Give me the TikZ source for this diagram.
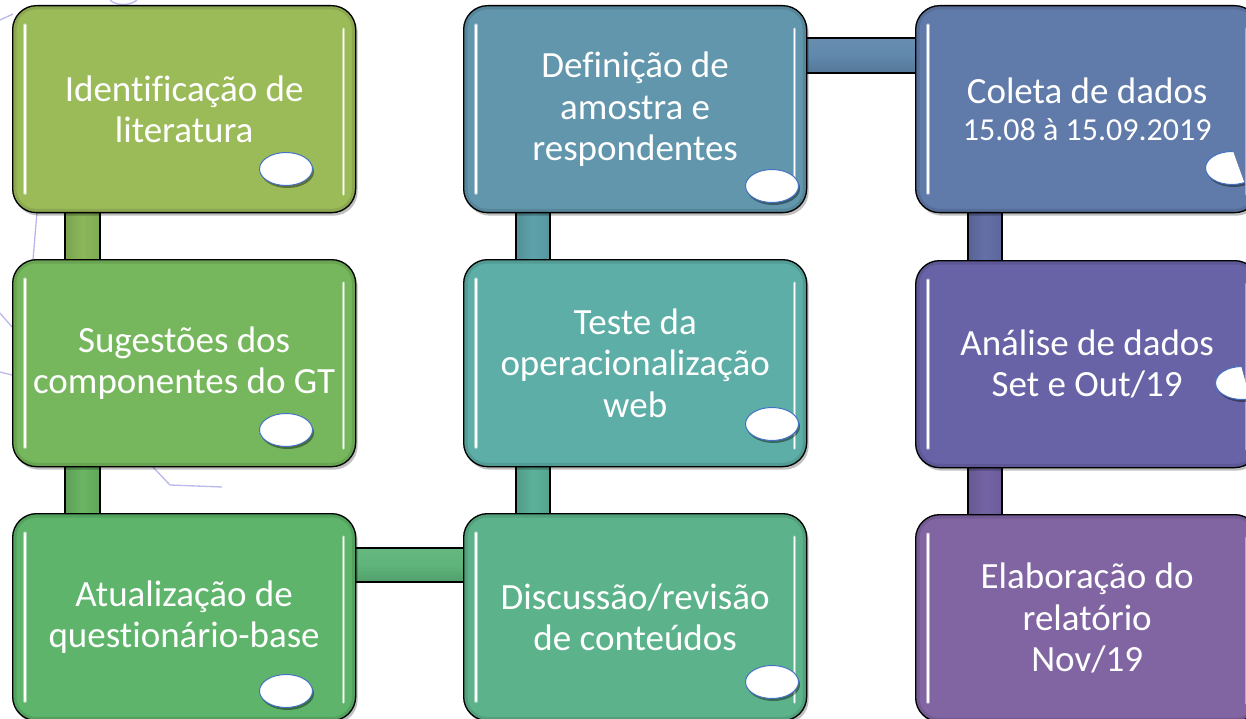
\documentclass[tikz,border=0pt]{standalone}
\usepackage{fontspec}
\setmainfont{Carlito}[Ligatures={NoCommon}]
\usetikzlibrary{shapes.geometric,shadows,backgrounds}
\definecolor{c1}{HTML}{9BBB59}
\definecolor{c2}{HTML}{76B75D}
\definecolor{c3}{HTML}{5DB46A}
\definecolor{c4}{HTML}{5CB38B}
\definecolor{c5}{HTML}{5CAEA6}
\definecolor{c6}{HTML}{6196AC}
\definecolor{c7}{HTML}{607AA9}
\definecolor{c8}{HTML}{6863A6}
\definecolor{c9}{HTML}{8165A3}
\definecolor{k12}{HTML}{8BB85A}
\definecolor{k23}{HTML}{6AB563}
\definecolor{k34}{HTML}{5EB47A}
\definecolor{k45}{HTML}{5CB19A}
\definecolor{k56}{HTML}{5EA2AC}
\definecolor{k67}{HTML}{6088AB}
\definecolor{k78}{HTML}{6470A8}
\definecolor{k89}{HTML}{7464A5}
\definecolor{lav}{HTML}{B9B9EC}
\definecolor{ellborder}{HTML}{4472C4}
\tikzset{
  box/.style={draw=black, line width=1.3pt, rounded corners=24pt,
    minimum width=343pt, minimum height=207pt, anchor=north west,
    text=white, align=center, inner sep=0pt,
    font=\fontsize{37}{41.5}\selectfont,
    drop shadow={shadow xshift=2pt, shadow yshift=-3pt, opacity=0.25, fill=black}},
  dot/.style={ellipse, draw=ellborder, fill=white, line width=1pt,
    minimum width=53pt, minimum height=33pt, inner sep=0pt,
    drop shadow={shadow xshift=1.5pt, shadow yshift=-2.5pt, opacity=0.4, fill=black}},
  vbar/.style={draw=black, line width=1.2pt, left color=#1!88!black, right color=#1!92!black, middle color=#1},
  hbar/.style={draw=black, line width=1.2pt, top color=#1!95!white, bottom color=#1!88!black, middle color=#1},
  bgline/.style={draw=lav, line width=1.3pt}
}
\newcommand{\boxgloss}[2]{%
  \begin{scope}
    \clip[rounded corners=24pt] (#1.south west) rectangle (#1.north east);
    \draw[line width=9pt, draw=black, opacity=0.10, rounded corners=24pt] (#1.south west) rectangle (#1.north east);
  \end{scope}
  \draw[line width=3.2pt, draw=white!55!#2, opacity=0.8, line cap=round]
    ([xshift=13pt,yshift=-20pt]#1.north west) -- ([xshift=13pt,yshift=20pt]#1.south west);
  \draw[line width=1.1pt, draw=white, line cap=round]
    ([xshift=13pt,yshift=-20pt]#1.north west) -- ([xshift=13pt,yshift=20pt]#1.south west);
  \draw[line width=3.2pt, draw=white!55!#2, opacity=0.8, line cap=round]
    ([xshift=-13pt,yshift=-24pt]#1.north east) -- ([xshift=-13pt,yshift=19pt]#1.south east);
  \draw[line width=1.1pt, draw=white, line cap=round]
    ([xshift=-13pt,yshift=-24pt]#1.north east) -- ([xshift=-13pt,yshift=19pt]#1.south east);
}
\begin{document}
\begin{tikzpicture}[x=1pt,y=-1pt]
\useasboundingbox (0,0) rectangle (1246,719);
\clip (0,0) rectangle (1246,719);
\begin{scope}[on background layer]
\fill[white] (0,0) rectangle (1246,719);
\end{scope}

% faint background lines
\draw[bgline] (0,20) -- (13,14);
\draw[bgline] (110,0) .. controls (116,6) and (130,6) .. (137,0);
\draw[bgline] (37,212) -- (33,260);
\draw[bgline] (0,313) -- (12,327);
\draw[bgline] (0,372) -- (12,375);
\draw[bgline] (152,466) -- (170,485) -- (222,487);

% boxes
\node[box, fill=c1] (b1) at (12,5) {Identificação de\\literatura};
\node[box, fill=c2] (b2) at (12,259) {Sugestões dos\\componentes do GT};
\node[box, fill=c3] (b3) at (12,513) {Atualização de\\questionário-base};
\node[box, fill=c4] (b4) at (463,513) {Discussão/revisão\\de conteúdos};
\node[box, fill=c5] (b5) at (463,259) {Teste da\\operacionalização\\web};
\node[box, fill=c6] (b6) at (463,5) {Definição de\\amostra e\\respondentes};
\node[box, fill=c7] (b7) at (915,5) {Coleta de dados\\[-4pt]{\fontsize{32}{38}\selectfont 15.08 à 15.09.2019}};
\node[box, fill=c8] (b8) at (915,260) {Análise de dados\\Set e Out/19};
\node[box, fill=c9] (b9) at (915,514) {Elaboração do\\relatório\\Nov/19};

% connectors
\begin{scope}[on background layer]
\draw[vbar=k12] ([xshift=53pt,yshift=2pt]b1.south west) rectangle ([xshift=88pt,yshift=-2pt]b2.north west);
\draw[vbar=k23] ([xshift=53pt,yshift=2pt]b2.south west) rectangle ([xshift=88pt,yshift=-2pt]b3.north west);
\draw[hbar=k34] ([xshift=-2pt,yshift=-35pt]b3.north east) rectangle ([xshift=2pt,yshift=-69pt]b4.north west);
\draw[vbar=k45] ([xshift=53pt,yshift=-2pt]b4.north west) rectangle ([xshift=87pt,yshift=2pt]b5.south west);
\draw[vbar=k56] ([xshift=53pt,yshift=-2pt]b5.north west) rectangle ([xshift=87pt,yshift=2pt]b6.south west);
\draw[hbar=k67] ([xshift=-2pt,yshift=-33pt]b6.north east) rectangle ([xshift=2pt,yshift=-68pt]b7.north west);
\draw[vbar=k78] ([xshift=53pt,yshift=2pt]b7.south west) rectangle ([xshift=87pt,yshift=-2pt]b8.north west);
\draw[vbar=k89] ([xshift=53pt,yshift=2pt]b8.south west) rectangle ([xshift=87pt,yshift=-2pt]b9.north west);
\end{scope}

\boxgloss{b1}{c1}
\boxgloss{b2}{c2}
\boxgloss{b3}{c3}
\boxgloss{b4}{c4}
\boxgloss{b5}{c5}
\boxgloss{b6}{c6}
\boxgloss{b7}{c7}
\boxgloss{b8}{c8}
\boxgloss{b9}{c9}

% ellipses
\node[dot] (e1) at (286,169) {};
\node[dot] (e2) at (286,430) {};
\node[dot] (e3) at (286,691) {};
\node[dot] (e4) at (772,682) {};
\node[dot] (e5) at (772,424) {};
\node[dot] (e6) at (772,186) {};
\begin{scope}
\clip (1190,140) -- (1229,140) -- (1247,190) -- (1190,190) -- cycle;
\node[dot] (e7) at (1232,168) {};
\end{scope}
\begin{scope}
\clip (1200,355) -- (1238,355) -- (1252,405) -- (1200,405) -- cycle;
\node[dot] (e8) at (1242,383) {};
\end{scope}
\end{tikzpicture}
\end{document}
